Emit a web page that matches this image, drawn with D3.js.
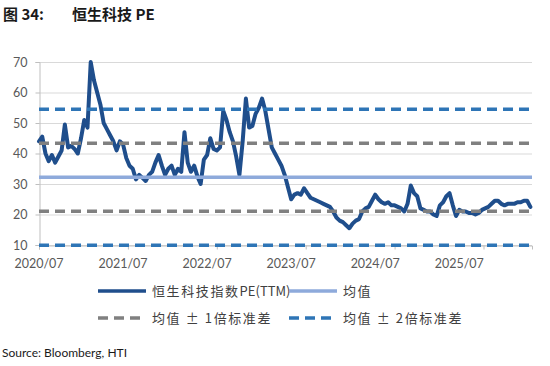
<!DOCTYPE html>
<html><head><meta charset="utf-8">
<script src="https://cdn.jsdelivr.net/npm/d3@7"></script>
<style>
html,body{margin:0;padding:0;background:#fff;}
svg{display:block;}
</style></head>
<body>
<svg id="chart" width="550" height="366"></svg>
<script>
// ---- data (bi-weekly samples, week index = 2*i, starting 2020/07) ----
const peValues = [
44,45.5,40,37.5,39.5,37,39,41,49.5,42,
42.5,41.5,40,45,51,48.5,70,64,60,56,
50,48,46,44,41,44,43,38.5,36,35,
31.5,33,32,31,33,34,37,39.5,36,33,
35,36,33,35,34,47,37,34,36,32.5,
30,38,39.5,45,41.5,41,42,54,51,47,
44,39,33,44,58,48.5,49,53,55,58,
54,48,42,40,38,36,33,29,25,26.5,
27,26.5,28.6,27,25.5,25,24.5,24,23.5,23,
22.5,21,19,18,17.5,16.5,15.5,17,18,18.5,
21,22,22.5,24.5,26.5,25,24,23.5,24,23,
23,22.5,22,21,23.5,29.5,27,26,22,21.5,
21,21,20,19.5,23,24,26,27,23,19.5,
21.5,21,21,20.5,20.5,20,20.5,21.5,22,22.5,
23.5,24.5,24.5,23.5,23,23.5,23.5,23.5,24,24,
24.5,24.5,22.5
];
const weekStep = 2;
const totalWeeks = 305;
const tickLabels = ["2020/07","2021/07","2022/07","2023/07","2024/07","2025/07"];
const labelInterval = 52;   // weeks between labels
const tickInterval = 55;    // weeks between tick marks
const yTicks = [10,20,30,40,50,60,70];
const meanValue = 32.2;
const stdValue = 11.15;
const legendNames = [["恒生科技指数","PE(TTM)"],["均值",""],["均值 ± 1倍标准差",""],["均值 ± 2倍标准差",""]];

const svg = d3.select("#chart");
const x = d3.scaleLinear().domain([0,totalWeeks]).range([39,532]);
const y = d3.scaleLinear().domain([10,70]).range([245,62]);
const fontLatin = "Lato, 'Noto Sans', sans-serif";
const fontCJK = "'Noto Sans CJK SC', 'Noto Sans', sans-serif";

// title
const title = svg.append("text").attr("x",3).attr("y",20)
  .attr("font-family",fontCJK).attr("font-weight","bold").attr("font-size",15).attr("fill","#1a1a1a");
title.append("tspan").text("图 34:");
title.append("tspan").attr("x",72).text("恒生科技 PE");

// gridlines
svg.append("g").selectAll("line").data(yTicks).join("line")
  .attr("x1",x(0)).attr("x2",x(totalWeeks))
  .attr("y1",d=>y(d)+0.5).attr("y2",d=>y(d)+0.5)
  .attr("stroke","#d9d9d9").attr("stroke-width",1);

// y axis
const yAxis = svg.append("g").attr("transform",`translate(${x(0)+0.5},0)`)
  .call(d3.axisLeft(y).tickValues(yTicks).tickSize(4).tickPadding(8).tickFormat(d3.format("d")));
yAxis.select(".domain").attr("stroke","#bfbfbf");
yAxis.selectAll(".tick line").attr("stroke","#bfbfbf");
yAxis.selectAll("text").attr("font-family",fontLatin).attr("font-size",12.5).attr("fill","#595959");

// x axis
const tickWeeks = d3.range(0,totalWeeks,tickInterval);
const xAxis = svg.append("g").attr("transform",`translate(0,${y(10)+0.5})`)
  .call(d3.axisBottom(x).tickValues(tickWeeks).tickSize(4).tickFormat(""));
xAxis.select(".domain").attr("stroke","#bfbfbf");
xAxis.selectAll(".tick line").attr("stroke","#bfbfbf");
svg.append("g").selectAll("text").data(tickLabels).join("text")
  .attr("x",(d,i)=>x(i*labelInterval)).attr("y",268)
  .attr("text-anchor","middle")
  .attr("font-family",fontLatin).attr("font-size",12.5).attr("fill","#595959")
  .text(d=>d);

// main series
const line = d3.line().x((d,i)=>x(i*weekStep)).y(d=>y(d)).curve(d3.curveLinear);
svg.append("path").datum(peValues).attr("d",line)
  .attr("fill","none").attr("stroke","#1f4e8c").attr("stroke-width",4)
  .attr("stroke-linejoin","round").attr("stroke-linecap","round");

// reference lines
const refs = [
  {v:meanValue, color:"#8eaadb", dash:null},
  {v:meanValue+stdValue, color:"#808080", dash:"10,6"},
  {v:meanValue-stdValue, color:"#808080", dash:"10,6"},
  {v:meanValue+2*stdValue, color:"#2e75b6", dash:"10,6"},
  {v:meanValue-2*stdValue, color:"#2e75b6", dash:"10,6"}
];
svg.append("g").selectAll("line").data(refs).join("line")
  .attr("x1",x(0)).attr("x2",x(totalWeeks))
  .attr("y1",d=>y(d.v)).attr("y2",d=>y(d.v))
  .attr("stroke",d=>d.color).attr("stroke-width",3.5)
  .attr("stroke-dasharray",d=>d.dash);

// legend
const legendItems = [
  {name:legendNames[0], color:"#1f4e8c", dash:null, x:98, y:291},
  {name:legendNames[1], color:"#8eaadb", dash:null, x:289, y:291},
  {name:legendNames[2], color:"#808080", dash:"10,6", x:98, y:318},
  {name:legendNames[3], color:"#2e75b6", dash:"10,6", x:289, y:318}
];
const lg = svg.append("g").selectAll("g").data(legendItems).join("g")
  .attr("transform",d=>`translate(${d.x},${d.y})`);
lg.append("line").attr("x1",0).attr("x2",d=>d.dash?44:48).attr("y1",0).attr("y2",0)
  .attr("stroke",d=>d.color).attr("stroke-width",3.5).attr("stroke-dasharray",d=>d.dash);
const lt = lg.append("text").attr("x",54).attr("y",4.5)
  .attr("font-family",fontCJK).attr("font-size",13).attr("fill","#404040");
lt.append("tspan").attr("letter-spacing",1.6).text(d=>d.name[0]);
lt.append("tspan").attr("letter-spacing",0).text(d=>d.name[1]);

// source
svg.append("text").attr("x",2).attr("y",357)
  .attr("font-family",fontLatin).attr("font-size",12).attr("fill","#1a1a1a")
  .text("Source: Bloomberg, HTI");
</script>
</body></html>
